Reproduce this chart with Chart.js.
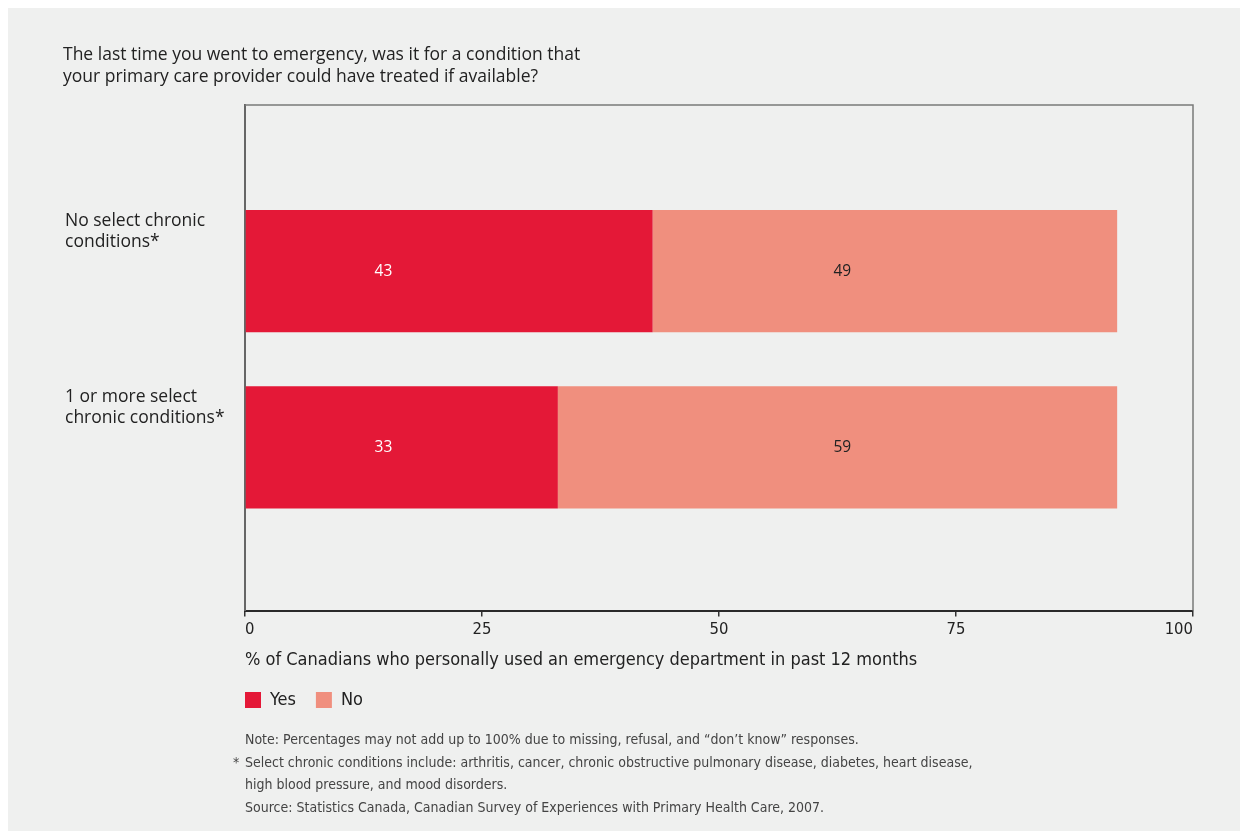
<!DOCTYPE html>
<html>
<head>
<meta charset="utf-8">
<script src="https://cdn.jsdelivr.net/npm/chart.js@4/dist/chart.umd.min.js"></script>
<style>
  html, body { margin: 0; padding: 0; background: #fff; }
  #wrap { position: relative; width: 1240px; height: 831px; overflow: hidden; }
  #panel { position: absolute; left: 8px; top: 8px; right: 0; bottom: 0; background: #eff0ef; }
  #c { position: absolute; left: 0; top: 0; }
  .title {
    position: absolute; left: 63px; top: 42px;
    font-family: "Open Sans", "Noto Sans", sans-serif; font-size: 17.5px; line-height: 22px;
    color: #222;
  }
  .notes {
    position: absolute; left: 245px; top: 728px;
    font-family: "DejaVu Sans Condensed", "Liberation Sans Narrow", sans-serif;
    font-size: 14px; line-height: 22.7px; color: #444;
  }
  .notes .star { position: absolute; left: -12px; }
  .notes div { position: relative; white-space: nowrap; }
</style>
</head>
<body>
<div id="wrap">
  <div id="panel"></div>
  <canvas id="c" width="1240" height="831"></canvas>
  <div class="title">The last time you went to emergency, was it for a condition that<br>your primary care provider could have treated if available?</div>
  <div class="notes">
    <div>Note: Percentages may not add up to 100% due to missing, refusal, and “don’t know” responses.</div>
    <div><span class="star">*</span>Select chronic conditions include: arthritis, cancer, chronic obstructive pulmonary disease, diabetes, heart disease,</div>
    <div>high blood pressure, and mood disorders.</div>
    <div>Source: Statistics Canada, Canadian Survey of Experiences with Primary Health Care, 2007.</div>
  </div>
</div>
<script>
// Survey responses (% of Canadians who used an emergency department)
const categories = [
  ['No select chronic', 'conditions*'],
  ['1 or more select', 'chronic conditions*']
];
const rowPositions = [1, 2];
const yesValues = [43, 33];
const noValues = [49, 59];
const xTicks = [0, 25, 50, 75, 100];
const seriesNames = ['Yes', 'No'];

const condensed = '"DejaVu Sans Condensed", "Liberation Sans Narrow", sans-serif';
const regular = '"Open Sans", "Noto Sans", sans-serif';

// Thin grey frame on the top and right sides of the plot area
const framePlugin = {
  id: 'frame',
  afterDraw(chart) {
    const { ctx, chartArea: a } = chart;
    ctx.save();
    ctx.strokeStyle = '#7a7a7a';
    ctx.lineWidth = 1.5;
    ctx.beginPath();
    ctx.moveTo(a.left, a.top);
    ctx.lineTo(a.right, a.top);
    ctx.lineTo(a.right, a.bottom);
    ctx.stroke();
    ctx.restore();
  }
};

// Start the legend flush with the left edge of the plot area
const legendAlign = {
  id: 'legendAlign',
  beforeDraw(chart) {
    const lg = chart.legend;
    if (lg) {
      const shift = chart.chartArea.left - lg.options.labels.padding;
      const w = lg.right - lg.left;
      lg.left = shift;
      lg.right = shift + w;
    }
  }
};

// Value labels written inside each bar segment
const valueLabels = {
  id: 'valueLabels',
  afterDatasetsDraw(chart, args, opts) {
    const { ctx } = chart;
    const xScale = chart.scales.x;
    ctx.save();
    ctx.font = '15.5px ' + regular;
    ctx.textAlign = 'center';
    ctx.textBaseline = 'middle';
    chart.data.datasets.forEach((ds, i) => {
      const meta = chart.getDatasetMeta(i);
      meta.data.forEach((bar, j) => {
        ctx.fillStyle = opts.colors[i];
        const x = xScale.getPixelForValue(opts.anchors[i]);
        ctx.fillText(String(ds.data[j].x), x, bar.y);
      });
    });
    ctx.restore();
  }
};

const toPoints = vals => vals.map((v, i) => ({ x: v, y: rowPositions[i] }));

new Chart(document.getElementById('c'), {
  type: 'bar',
  data: {
    datasets: [
      { label: seriesNames[0], data: toPoints(yesValues), backgroundColor: '#e41837' },
      { label: seriesNames[1], data: toPoints(noValues), backgroundColor: '#f08f7e' }
    ]
  },
  options: {
    indexAxis: 'y',
    responsive: false,
    animation: false,
    events: [],
    barPercentage: 0.693,
    categoryPercentage: 1,
    layout: { padding: { left: 65, right: 47, top: 105, bottom: 112 } },
    scales: {
      x: {
        type: 'linear',
        stacked: true,
        min: 0, max: 100,
        afterBuildTicks: s => { s.ticks = xTicks.map(v => ({ value: v })); },
        ticks: { font: { family: condensed, size: 16.5 }, color: '#222', align: 'inner', padding: 3 },
        grid: { display: true, drawOnChartArea: false, drawTicks: true, tickLength: 6, color: '#333', lineWidth: 1.5 },
        border: { display: true, color: '#2a2a2a', width: 2 },
        title: {
          display: true, align: 'start',
          text: '% of Canadians who personally used an emergency department in past 12 months',
          font: { family: condensed, size: 18 }, color: '#222',
          padding: { top: 7, bottom: 0 }
        }
      },
      y: {
        type: 'linear',
        stacked: true,
        reverse: true,
        offset: false,
        min: 0.057, max: 2.926,
        afterBuildTicks: s => { s.ticks = rowPositions.map(v => ({ value: v })); },
        afterFit: s => { s.width = 180; },
        ticks: {
          callback: v => categories[rowPositions.indexOf(v)],
          crossAlign: 'far',
          labelOffset: -40,
          font: { family: regular, size: 17.5, lineHeight: 1.2 },
          color: '#222'
        },
        grid: { display: false, offset: false },
        border: { display: true, color: '#666', width: 2 }
      }
    },
    plugins: {
      legend: {
        position: 'bottom', align: 'start', fullSize: false,
        labels: { boxWidth: 16, boxHeight: 16, font: { family: condensed, size: 18 }, color: '#222', padding: 20 }
      },
      tooltip: { enabled: false },
      valueLabels: { anchors: [14.6, 63], colors: ['#ffffff', '#222222'] }
    }
  },
  plugins: [framePlugin, legendAlign, valueLabels]
});
</script>
</body>
</html>
